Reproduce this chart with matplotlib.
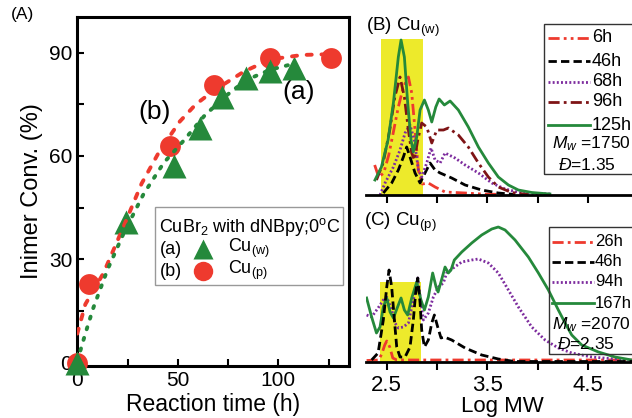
import matplotlib
matplotlib.use('Agg')
import matplotlib.pyplot as plt
from matplotlib.lines import Line2D
from matplotlib.patches import Rectangle
from matplotlib.ticker import MultipleLocator, FixedLocator, FixedFormatter

plt.rcParams['font.family'] = ['Liberation Sans', 'DejaVu Sans']
plt.rcParams['mathtext.fontset'] = 'custom'
plt.rcParams['mathtext.rm'] = 'Liberation Sans'
plt.rcParams['mathtext.it'] = 'Liberation Sans:italic'
plt.rcParams['mathtext.bf'] = 'Liberation Sans:bold'

# ---- panel A: conversion vs time ----
time_w = [0, 24, 48, 61, 72, 84, 96, 108]
conv_w = [0, 41, 57, 68, 77, 82.5, 84.5, 85.5]
time_p = [0, 6, 46, 68, 96, 126]
conv_p = [0, 23, 63, 80.5, 88.5, 88.5]

fit_t_p = [0, 4, 13, 23, 32, 41, 51, 59, 68, 83, 96, 112, 125]
fit_c_p = [8.5, 17, 26, 39.5, 52, 61.5, 70, 75, 79, 84.5, 88, 89.3, 89.5]
fit_t_w = [0, 4, 8, 15, 23, 33, 43, 53, 63, 73, 84, 96, 106]
fit_c_w = [0.5, 8.5, 16, 27, 37.5, 49, 58, 64.5, 71.5, 77, 82, 85, 86.5]

# ---- panel B: GPC traces Cu(w) ----
b6_x = [2.38, 2.42, 2.47, 2.52, 2.56, 2.615, 2.665, 2.715, 2.748, 2.781, 2.814, 2.854, 2.913, 2.98, 3.079, 3.278, 3.44, 3.675]
b6_y = [30, 18, 22, 40, 60, 88, 108, 118, 102, 65, 25, 11, 12, 8, 3, 2, 1, 0.5]
b46_x = [2.466, 2.549, 2.615, 2.665, 2.698, 2.731, 2.781, 2.831, 2.88, 2.93, 2.98, 3.03, 3.145, 3.278, 3.443, 3.608, 3.774]
b46_y = [2, 12, 25, 38, 48, 38, 22, 12, 22, 32, 25, 22, 17, 10, 5, 2, 0.5]
b68_x = [2.433, 2.483, 2.566, 2.632, 2.682, 2.731, 2.774, 2.814, 2.847, 2.897, 2.94, 2.98, 3.03, 3.079, 3.178, 3.278, 3.41, 3.543, 3.675, 3.84, 4.14]
b68_y = [0, 12, 28, 45, 62, 70, 55, 25, 18, 32, 47, 35, 32, 42, 37, 30, 22, 12, 6, 2, 1]
b96_x = [2.398, 2.464, 2.53, 2.58, 2.632, 2.675, 2.715, 2.748, 2.774, 2.808, 2.847, 2.897, 2.947, 2.997, 3.063, 3.112, 3.211, 3.31, 3.41, 3.509, 3.608, 3.74, 3.906]
b96_y = [15, 32, 65, 98, 118, 98, 65, 42, 35, 55, 72, 68, 52, 65, 65, 67, 60, 48, 32, 18, 8, 2.5, 0.5]
b125_x = [2.383, 2.447, 2.513, 2.566, 2.615, 2.642, 2.675, 2.708, 2.741, 2.764, 2.798, 2.831, 2.874, 2.913, 2.947, 2.987, 3.02, 3.072, 3.129, 3.211, 3.31, 3.41, 3.509, 3.608, 3.708, 3.807, 3.94, 4.12]
b125_y = [15, 28, 55, 92, 138, 155, 138, 92, 55, 43, 58, 85, 95, 85, 73, 88, 96, 90, 94, 85, 68, 48, 32, 18, 10, 5, 2.5, 1]

# ---- panel C: GPC traces Cu(p) ----
c26_x = [2.30, 2.42, 2.45, 2.48, 2.50, 2.53, 2.56, 2.60, 3.5, 4.5, 4.95]
c26_y = [1.5, 2, 8, 17, 21, 15, 4, 2, 2, 2, 2]
c46_x = [2.35, 2.414, 2.466, 2.5, 2.523, 2.549, 2.576, 2.599, 2.632, 2.682, 2.731, 2.764, 2.787, 2.808, 2.831, 2.847, 2.874, 2.913, 2.947, 2.973, 3.006, 3.039, 3.072, 3.145, 3.278, 3.443, 3.608, 3.77, 4.3, 4.95]
c46_y = [2, 9, 42, 75, 92, 75, 42, 15, 5, 5, 15, 42, 69, 84, 59, 32, 15, 22, 39, 47, 35, 24, 25, 22, 14, 7, 3, 0.5, 0.5, 0.5]
c94_x = [2.3, 2.35, 2.414, 2.466, 2.5, 2.549, 2.582, 2.615, 2.665, 2.715, 2.764, 2.808, 2.84, 2.864, 2.913, 2.963, 3.013, 3.062, 3.095, 3.161, 3.245, 3.344, 3.41, 3.509, 3.608, 3.708, 3.807, 3.94, 4.072, 4.204, 4.337, 4.536, 4.767, 4.93]
c94_y = [47, 45, 54, 62, 65, 52, 39, 34, 35, 39, 62, 84, 59, 42, 49, 65, 75, 79, 89, 94, 100, 102, 103, 99, 89, 72, 55, 35, 22, 14, 9, 5, 3, 2]
c167_x = [2.30, 2.35, 2.398, 2.433, 2.466, 2.5, 2.533, 2.566, 2.615, 2.642, 2.675, 2.708, 2.748, 2.798, 2.84, 2.874, 2.913, 2.956, 2.99, 3.01, 3.052, 3.079, 3.112, 3.138, 3.171, 3.245, 3.344, 3.443, 3.543, 3.608, 3.675, 3.774, 3.906, 4.006, 4.105, 4.204, 4.271, 4.337, 4.436, 4.602, 4.767, 4.933]
c167_y = [64, 45, 29, 35, 55, 64, 50, 44, 57, 64, 52, 47, 64, 80, 62, 52, 65, 89, 75, 70, 85, 95, 89, 92, 102, 110, 119, 127, 133, 135, 132, 122, 105, 89, 72, 52, 39, 27, 17, 10, 5, 2]

mw_b = r'$M_{w}$ =1750'
pdi_b = r'$\mathit{Đ}$=1.35'
mw_c = r'$M_{w}$ =2070'
pdi_c = r'$\mathit{Đ}$=2.35'

GREEN = '#25893B'
RED = '#EE3A2E'
DARKRED = '#7E1416'
PURPLE = '#7D2C9E'
YELLOW = '#EDEA2B'

W, H = 632, 418


def fx(x):
    return x / W


def fy(y):
    return 1 - y / H


fig = plt.figure(figsize=(W / 100, H / 100), dpi=100)

# ================= panel A =================
axA = fig.add_axes([fx(77), fy(366), 272 / W, 349 / H])
axA.plot(time_p, conv_p, 'o', color=RED, ms=15, mec='none', clip_on=False, zorder=3)
axA.plot(time_w, conv_w, '^', color=GREEN, ms=17, mec='none', clip_on=False, zorder=4)
axA.plot(fit_t_p, fit_c_p, color=RED, lw=2.8, dashes=(1.3, 2.5), dash_capstyle='round', zorder=5)
axA.plot(fit_t_w, fit_c_w, color=GREEN, lw=2.8, dashes=(0.55, 2.3), dash_capstyle='round', zorder=5)
axA.set_xlim(-0.15, 135.2)
axA.set_ylim(-0.9, 100.3)
axA.set_xticks([0, 50, 100])
axA.set_yticks([0, 30, 60, 90])
axA.xaxis.set_minor_locator(MultipleLocator(25))
axA.yaxis.set_minor_locator(MultipleLocator(15))
axA.tick_params(which='both', direction='in', length=5, width=1.5, labelsize=15)
for s in axA.spines.values():
    s.set_linewidth(2.2)
axA.set_xlabel('Reaction time (h)', fontsize=16.5, labelpad=2)
axA.set_ylabel('Inimer Conv. (%)', fontsize=17, labelpad=4)
axA.text(110.3, 78.5, '(a)', fontsize=19, ha='center', va='center')
axA.text(38.2, 72.8, '(b)', fontsize=19, ha='center', va='center')
fig.text(fx(11), fy(15), '(A)', fontsize=12.5, ha='left', va='center')

# manual legend for panel A
fig.add_artist(Rectangle((fx(155), fy(285)), 188 / W, 78 / H, transform=fig.transFigure,
                         facecolor='white', edgecolor='#999999', lw=1, zorder=6))
fig.text(fx(159), fy(227), r'CuBr$_2$ with dNBpy;0$^{\mathrm{o}}$C', fontsize=13, ha='left', va='center', zorder=7)
fig.text(fx(160), fy(249), '(a)', fontsize=13, ha='left', va='center', zorder=7)
fig.text(fx(160), fy(271), '(b)', fontsize=13, ha='left', va='center', zorder=7)
fig.add_artist(Line2D([fx(203)], [fy(249)], marker='^', ms=15, color=GREEN, mec='none', transform=fig.transFigure, zorder=7))
fig.add_artist(Line2D([fx(203)], [fy(271)], marker='o', ms=14, color=RED, mec='none', transform=fig.transFigure, zorder=7))
fig.text(fx(228), fy(248), r'Cu$_{\mathrm{(w)}}$', fontsize=13, ha='left', va='center', zorder=7)
fig.text(fx(228), fy(270), r'Cu$_{\mathrm{(p)}}$', fontsize=13, ha='left', va='center', zorder=7)

# line styles for GPC traces
st6 = dict(color=RED, lw=2, dashes=(4, 1.5, 1, 1.5, 1, 1.5))
st26 = dict(color=RED, lw=2, dashes=(4, 1.5, 1, 1.5))
st46 = dict(color='black', lw=2, dashes=(3, 1.5))
st68 = dict(color=PURPLE, lw=2, dashes=(0.7, 0.8))
st96 = dict(color=DARKRED, lw=2, dashes=(4, 1.5, 1, 1.5))
st125 = dict(color=GREEN, lw=2)


def style_gpc(ax, labels):
    ax.set_xlim(2.29, 5.0)
    for k in ['left', 'top', 'right']:
        ax.spines[k].set_visible(False)
    ax.spines['bottom'].set_linewidth(2)
    ax.set_yticks([])
    ax.xaxis.set_major_locator(FixedLocator([2.5, 3.0, 3.5, 4.0, 4.5]))
    ax.xaxis.set_major_formatter(FixedFormatter(labels))
    ax.tick_params(axis='x', direction='out', length=6, width=1.5, labelsize=16, pad=3.5)
    ax.patch.set_alpha(0)


def gpc_legend(entries, x0, x1, xt, ys, box, extra, size=13):
    l, t, r, b = box
    fig.add_artist(Rectangle((fx(l), fy(b)), (r - l) / W, (b - t) / H, transform=fig.transFigure,
                             facecolor='none', edgecolor='#333333', lw=1))
    for (lab, st), y in zip(entries, ys):
        fig.add_artist(Line2D([fx(x0), fx(x1)], [fy(y), fy(y)], transform=fig.transFigure, **st))
        fig.text(fx(xt), fy(y), lab, fontsize=size, ha='left', va='center')
    for txt, x, y in extra:
        fig.text(fx(x), fy(y), txt, fontsize=12.5, ha='left', va='center')


# ================= panel B =================
axB = fig.add_axes([fx(365.6), fy(195), 272.9 / W, 175 / H])
axB.add_patch(Rectangle((2.442, 0), 0.414, 156, facecolor=YELLOW, edgecolor='none', zorder=0))
axB.plot(b6_x, b6_y, **st6)
axB.plot(b46_x, b46_y, **st46)
axB.plot(b68_x, b68_y, **st68)
axB.plot(b96_x, b96_y, **st96)
axB.plot(b125_x, b125_y, **st125)
axB.set_ylim(0, 175)
style_gpc(axB, ['', '', '', '', ''])
fig.text(fx(366), fy(27), r'(B) Cu$_{\mathrm{(w)}}$', fontsize=13.5, ha='left', va='center')
gpc_legend([('6h', st6), ('46h', st46), ('68h', st68), ('96h', st96), ('125h', st125)],
           548, 590, 592, [38, 61, 82, 102, 125], (544, 24, 645, 174),
           [(mw_b, 552, 144), (pdi_b, 558, 165)])

# ================= panel C =================
axC = fig.add_axes([fx(365.6), fy(362), 272.9 / W, 140 / H])
axC.add_patch(Rectangle((2.433, 0), 0.412, 80, facecolor=YELLOW, edgecolor='none', zorder=0))
axC.plot(c26_x, c26_y, **st26)
axC.plot(c94_x, c94_y, **st68)
axC.plot(c167_x, c167_y, **st125)
axC.plot(c46_x, c46_y, **st46)
axC.set_ylim(0, 140)
style_gpc(axC, ['2.5', '', '3.5', '', '4.5'])
axC.set_xlabel('Log MW', fontsize=16, labelpad=0)
fig.text(fx(364), fy(222), r'(C) Cu$_{\mathrm{(p)}}$', fontsize=13.5, ha='left', va='center')
gpc_legend([('26h', st26), ('46h', st46), ('94h', st68), ('167h', st125)],
           552, 594, 595, [242, 262, 282, 303], (549, 227, 645, 354),
           [(mw_c, 552, 325), (pdi_c, 557, 344)], size=12)

fig.savefig('out.png', dpi=100)
